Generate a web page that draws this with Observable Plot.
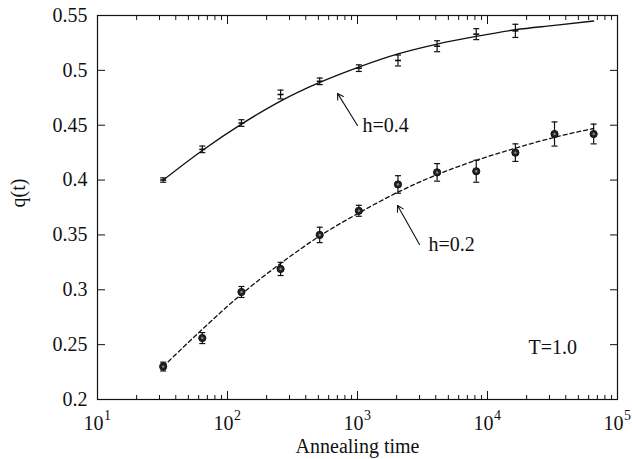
<!DOCTYPE html>
<html><head><meta charset="utf-8">
<script src="https://cdn.jsdelivr.net/npm/d3@7"></script>
<script src="https://cdn.jsdelivr.net/npm/@observablehq/plot@0.6"></script>
<style>
body{margin:0;background:#fff;}
#chart svg, #chart svg text{font-family:"Liberation Serif","DejaVu Serif",serif !important;}
</style>
</head><body><div id="chart"></div>
<script>
// Annealing times (powers of two)
const times = [32, 64, 128, 256, 512, 1024, 2048, 4096, 8192, 16384, 32768, 65536];

// h=0.4 data (points only up to 16384)
const tH04 = [32, 64, 128, 256, 512, 1024, 2048, 4096, 8192, 16384];
const qH04 = [0.400, 0.428, 0.452, 0.478, 0.490, 0.502, 0.509, 0.522, 0.533, 0.536];
const eH04 = [0.002, 0.003, 0.003, 0.004, 0.003, 0.003, 0.005, 0.005, 0.005, 0.006];
// h=0.4 fitted curve, read at the same times
const fitH04 = [0.400, 0.427, 0.451, 0.472, 0.489, 0.503, 0.515, 0.524, 0.531, 0.537, 0.541, 0.545];

// h=0.2 data
const qH02 = [0.230, 0.256, 0.298, 0.319, 0.350, 0.372, 0.396, 0.407, 0.408, 0.425, 0.442, 0.442];
const eH02 = [0.004, 0.005, 0.005, 0.006, 0.007, 0.005, 0.008, 0.008, 0.010, 0.008, 0.011, 0.009];
// h=0.2 fitted curve
const fitH02 = [0.230, 0.264, 0.296, 0.324, 0.349, 0.370, 0.389, 0.405, 0.418, 0.429, 0.439, 0.447];

// axis ticks
const yTicks = [0.2, 0.25, 0.3, 0.35, 0.4, 0.45, 0.5, 0.55];
const xMajor = [1e1, 1e2, 1e3, 1e4, 1e5];
const xExp = ["1", "2", "3", "4", "5"];
const xMinor = [];
for (const d of [1e1, 1e2, 1e3, 1e4]) for (let k = 2; k <= 9; k++) xMinor.push(d * k);

const ptsH04 = tH04.map((t, i) => ({t, q: qH04[i], lo: qH04[i] - eH04[i], hi: qH04[i] + eH04[i]}));
const ptsH02 = times.map((t, i) => ({t, q: qH02[i], lo: qH02[i] - eH02[i], hi: qH02[i] + eH02[i]}));
const curveH04 = times.map((t, i) => ({t, q: fitH04[i]}));
const curveH02 = times.map((t, i) => ({t, q: fitH02[i]}));

const cap = {draw(ctx) { ctx.moveTo(-3, 0); ctx.lineTo(3, 0); }};
const ink = "#111";
const fs = 20;

const chart = Plot.plot({
  width: 632, height: 459,
  marginLeft: 97, marginRight: 15, marginTop: 15, marginBottom: 60,
  style: {fontFamily: "Liberation Serif, serif", fontSize: fs + "px", color: ink, background: "#fff"},
  x: {type: "log", domain: [10, 1e5]},
  y: {domain: [0.2, 0.55]},
  marks: [
    Plot.frame({stroke: ink, strokeWidth: 1.2}),
    // y axes: labels on left, inward ticks both sides
    Plot.axisY({anchor: "left", ticks: yTicks, tickSize: -8, tickPadding: 18, tickFormat: d => String(+d.toFixed(2)), fontSize: fs, label: null}),
    Plot.axisY({anchor: "right", ticks: yTicks, tickSize: -8, text: null, label: null}),
    // x axes: inward major + minor ticks top and bottom
    Plot.axisX({anchor: "bottom", ticks: xMajor, tickSize: -8, text: null, label: null}),
    Plot.axisX({anchor: "bottom", ticks: xMinor, tickSize: -4, text: null, label: null}),
    Plot.axisX({anchor: "top", ticks: xMajor, tickSize: -8, text: null, label: null}),
    Plot.axisX({anchor: "top", ticks: xMinor, tickSize: -4, text: null, label: null}),
    // x tick labels 10^n
    Plot.text(xMajor, {x: d => d, y: () => 0.2, text: () => "10", dy: 24, dx: -4, fontSize: fs, fill: ink}),
    Plot.text(xMajor, {x: d => d, y: () => 0.2, text: (d, i) => xExp[i], dy: 16, dx: 10, fontSize: 14, fill: ink}),
    // axis titles
    Plot.text(["Annealing time"], {frameAnchor: "bottom", dy: 53, text: d => d, fontSize: fs, fill: ink}),
    Plot.text(["q(t)"], {frameAnchor: "left", dx: -79, rotate: -90, text: d => d, fontSize: fs, fill: ink}),
    // fitted curves
    Plot.line(curveH04, {x: "t", y: "q", curve: "monotone-x", stroke: ink, strokeWidth: 1.3}),
    Plot.line(curveH02, {x: "t", y: "q", curve: "monotone-x", stroke: ink, strokeWidth: 1.3, strokeDasharray: "4,3"}),
    // error bars h=0.4
    Plot.ruleX(ptsH04, {x: "t", y1: "lo", y2: "hi", stroke: ink, strokeWidth: 1.2}),
    Plot.dot(ptsH04, {x: "t", y: "lo", symbol: cap, stroke: ink, strokeWidth: 1.2}),
    Plot.dot(ptsH04, {x: "t", y: "hi", symbol: cap, stroke: ink, strokeWidth: 1.2}),
    Plot.dot(ptsH04, {x: "t", y: "q", symbol: cap, stroke: ink, strokeWidth: 1.6}),
    // error bars h=0.2
    Plot.ruleX(ptsH02, {x: "t", y1: "lo", y2: "hi", stroke: ink, strokeWidth: 1.2}),
    Plot.dot(ptsH02, {x: "t", y: "lo", symbol: cap, stroke: ink, strokeWidth: 1.2}),
    Plot.dot(ptsH02, {x: "t", y: "hi", symbol: cap, stroke: ink, strokeWidth: 1.2}),
    Plot.dot(ptsH02, {x: "t", y: "q", r: 3.6, fill: "#222", stroke: ink, strokeWidth: 1}),
    Plot.dot(ptsH02, {x: "t", y: "q", r: 1.2, fill: "#888"}),
    // annotations
    Plot.arrow([{x1: 1000, y1: 0.4498, x2: 702, y2: 0.479}], {x1: "x1", y1: "y1", x2: "x2", y2: "y2", stroke: ink, strokeWidth: 1.1, headLength: 9, bend: false}),
    Plot.text(["h=0.4"], {x: () => 1092, y: () => 0.4498, text: d => d, textAnchor: "start", fontSize: fs, fill: ink}),
    Plot.arrow([{x1: 2999, y1: 0.3413, x2: 2032, y2: 0.3768}], {x1: "x1", y1: "y1", x2: "x2", y2: "y2", stroke: ink, strokeWidth: 1.1, headLength: 9, bend: false}),
    Plot.text(["h=0.2"], {x: () => 3516, y: () => 0.3413, text: d => d, textAnchor: "start", fontSize: fs, fill: ink}),
    Plot.text(["T=1.0"], {x: () => 20650, y: () => 0.2474, text: d => d, textAnchor: "start", fontSize: fs, fill: ink})
  ]
});
document.getElementById("chart").appendChild(chart);
</script>
</body></html>
